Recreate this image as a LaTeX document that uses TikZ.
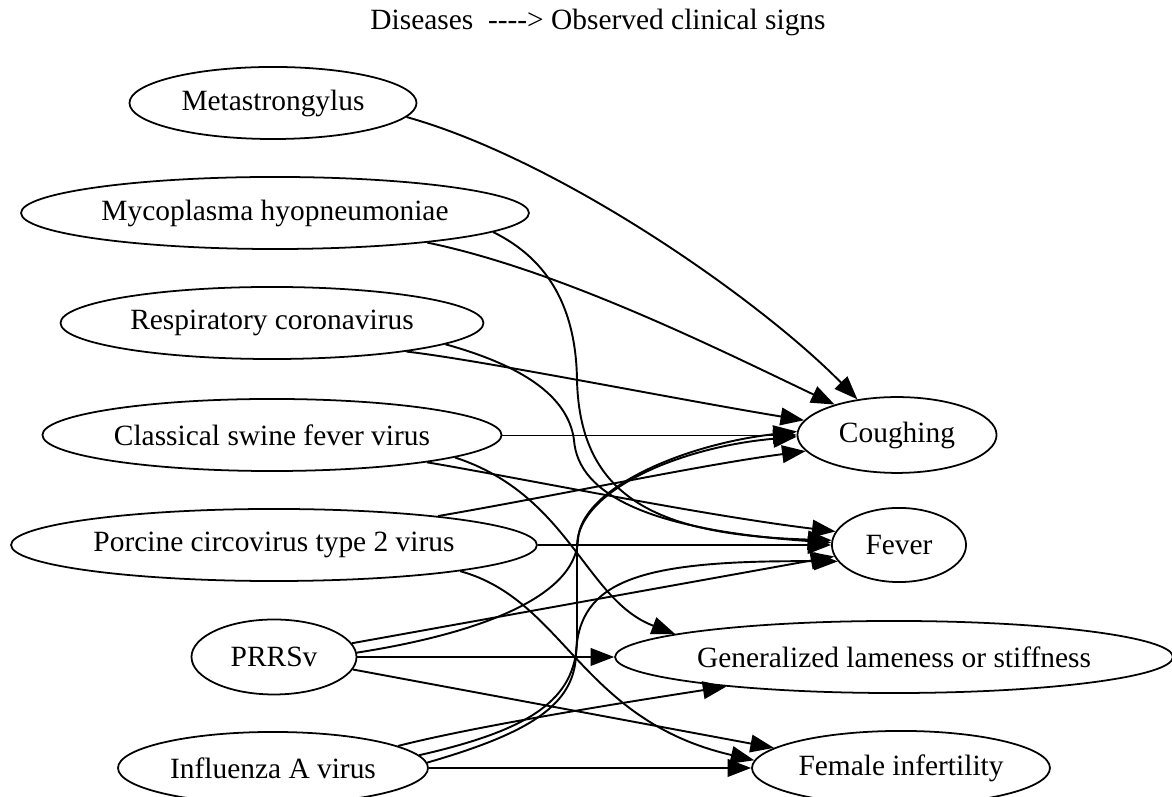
\documentclass[tikz,border=0pt]{standalone}
\usepackage{fontspec}
\setmainfont{Liberation Serif}
\usetikzlibrary{shapes.geometric,arrows.meta}

\begin{document}
\begin{tikzpicture}
[
  x=0.34pt, y=-0.34pt,
  every node/.style={font=\fontsize{10}{12}\selectfont},
  bubble/.style={ellipse, draw, line width=0.6pt, inner sep=0pt, minimum height=24.5pt},
  link/.style={line width=0.65pt, -{Triangle[length=8pt,width=6pt]}},
  faint/.style={link, line width=0.3pt}
]
  \useasboundingbox (0,0) rectangle (1172,797);

  \node (title) at (598,22) {Diseases\ \ -\kern0pt-\kern0pt-\kern0pt->\ Observed clinical signs};

  \node[bubble, minimum width=97.6pt] (meta) at (273,103) {Metastrongylus};
  \node[bubble, minimum width=172.7pt] (myco) at (275,213) {Mycoplasma hyopneumoniae};
  \node[bubble, minimum width=143.8pt] (resp) at (272,323) {Respiratory coronavirus};
  \node[bubble, minimum width=156.1pt] (csf) at (272,435) {Classical swine fever virus};
  \node[bubble, minimum width=178.8pt] (pcv) at (274,545) {Porcine circovirus type 2 virus};
  \node[bubble, minimum width=56.1pt, minimum height=25.5pt] (prrs) at (274,657) {PRRSv};
  \node[bubble, minimum width=105.4pt] (flu) at (273,768) {Influenza A virus};

  \node[bubble, minimum width=67.7pt, minimum height=25.8pt] (cough) at (897,435) {Coughing};
  \node[bubble, minimum width=45.6pt, minimum height=25.2pt] (fever) at (899,545) {Fever};
  \node[bubble, minimum width=189.7pt] (lame) at (894,657) {Generalized lameness or stiffness};
  \node[bubble, minimum width=101.3pt, minimum height=25.2pt] (infert) at (901,768) {Female infertility};

  \draw[link] (meta.-6) .. controls (560,160) and (760,300) .. (cough.138);

  \draw[link] (myco.-11) .. controls (560,270) and (720,350) .. (cough.154);
  \draw[link] (myco.-5) .. controls (550,260) and (576,310) .. (577,380)
    .. controls (580,500) and (660,535) .. (fever.176);

  \draw[link] (resp.-12) .. controls (480,360) and (680,400) .. (cough.171);
  \draw[link] (resp.-7) .. controls (520,365) and (568,395) .. (574,440)
    .. controls (578,495) and (650,530) .. (fever.178);

  \draw[faint] (csf) -- (cough);
  \draw[link] (csf.-10) .. controls (520,478) and (700,515) .. (fever.168);
  \draw[link] (csf.-7) .. controls (570,495) and (585,600) .. (lame.174);

  \draw[link] (pcv.10) .. controls (560,495) and (700,465) .. (cough.190);
  \draw[link] (pcv) -- (fever);
  \draw[link] (pcv.-8) .. controls (565,600) and (580,720) .. (infert.177);

  \draw[link] (prrs.3) .. controls (470,635) and (575,600) .. (578,540)
    .. controls (580,490) and (680,445) .. (cough.178);
  \draw[link] (prrs.10) -- (fever.190);
  \draw[link] (prrs) -- (lame);
  \draw[link] (prrs.-9) -- (infert.171);

  \draw[link] (flu.5) .. controls (530,730) and (576,700) .. (577,640) -- (577,545)
    .. controls (579,490) and (680,447) .. (cough.181);
  \draw[link] (flu.2) .. controls (530,733) and (574,705) .. (576,655)
    .. controls (578,580) and (640,560) .. (fever.195);
  \draw[link] (flu.10) .. controls (480,725) and (640,700) .. (lame.190);
  \draw[link] (flu) -- (infert);
\end{tikzpicture}
\end{document}
